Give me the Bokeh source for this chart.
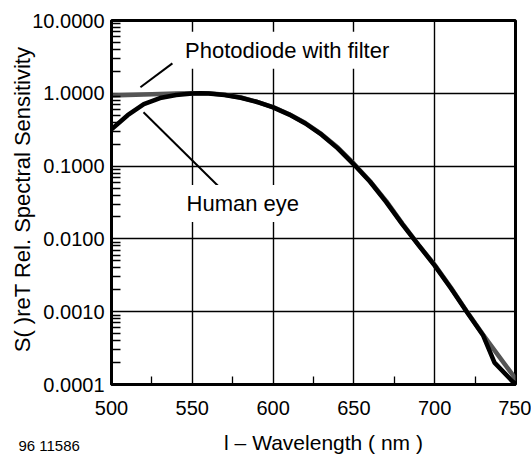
import math
from bokeh.plotting import figure
from bokeh.models import FixedTicker, PrintfTickFormatter, Label, Range1d
from bokeh.embed import file_html
from bokeh.resources import INLINE

# ---- data ----
wl_eye = [500, 510, 520, 530, 540, 550, 555, 560, 570, 580, 590, 600, 610, 620,
          630, 640, 650, 660, 670, 680, 690, 700, 710, 720, 730, 737, 750]
eye = [0.32, 0.50, 0.71, 0.86, 0.95, 0.995, 1.0, 0.995, 0.95, 0.87, 0.76, 0.64,
       0.51, 0.385, 0.27, 0.175, 0.105, 0.061, 0.032, 0.0158, 0.0082, 0.0043,
       0.0021, 0.00098, 0.00047, 0.0002, 0.0001]

wl_pd = [500, 510, 520, 530, 540, 550, 560, 570, 580, 590, 600, 610, 620, 630,
         640, 650, 660, 670, 680, 690, 700, 710, 720, 730, 740, 750]
photodiode = [0.93, 0.945, 0.96, 0.975, 0.99, 1.0, 1.0, 0.955, 0.875, 0.765,
              0.645, 0.515, 0.39, 0.275, 0.18, 0.108, 0.062, 0.033, 0.0162,
              0.0083, 0.0044, 0.00215, 0.001, 0.00048, 0.00024, 0.00012]

x_ticks = [500, 550, 600, 650, 700, 750]
x_minor = [525, 575, 625, 675, 725]
y_ticks = [0.0001, 0.001, 0.01, 0.1, 1.0, 10.0]
y_minor = [m * d for d in [0.0001, 0.001, 0.01, 0.1, 1.0] for m in range(2, 10)]

# leader lines (data coords)
pd_leader_x = [517.9, 537.7]
pd_leader_y = [1.21, 2.58]
eye_leader_x = [519.8, 566.8]
eye_leader_y = [0.548, 0.0511]

FONT = "Liberation Sans"

p = figure(frame_width=404, frame_height=364,
           min_border_left=111, min_border_right=16, min_border_top=20,
           min_border_bottom=70, y_axis_type="log",
           x_range=Range1d(500, 750), y_range=Range1d(0.0001, 10),
           output_backend="svg", toolbar_location=None,
           background_fill_color="white", border_fill_color="white")

p.outline_line_color = "black"
p.outline_line_width = 3
p.outline_line_alpha = 1

# axes
p.xaxis.ticker = FixedTicker(ticks=x_ticks, minor_ticks=x_minor)
p.yaxis.ticker = FixedTicker(ticks=y_ticks, minor_ticks=y_minor)
p.yaxis.formatter = PrintfTickFormatter(format="%.4f")
for ax in (p.xaxis[0], p.yaxis[0]):
    ax.axis_line_width = 3
    ax.axis_line_color = "black"
    ax.major_tick_in = 0
    ax.major_tick_out = 0
    ax.minor_tick_out = 0
    ax.minor_tick_line_color = "black"
    ax.minor_tick_line_width = 1.3
    ax.major_label_text_font = FONT
    ax.major_label_text_font_size = "20px"
    ax.major_label_text_color = "black"
p.xaxis.minor_tick_in = 8
p.yaxis.minor_tick_in = 9
p.xaxis.major_label_standoff = 16
p.yaxis.major_label_standoff = 7

# y axis title (lambda shows as blank, subscript as small run in the source)
p.yaxis.axis_label = "\u00a0\u00a0S( )reT Rel. Spectral  Sensitivity"
p.yaxis.axis_label_text_font = FONT
p.yaxis.axis_label_text_font_size = "22px"
p.yaxis.axis_label_text_font_style = "normal"
p.yaxis.axis_label_text_color = "black"
p.yaxis.axis_label_standoff = -6

# grid
p.xgrid.ticker = FixedTicker(ticks=[550, 600, 650, 700])
p.ygrid.ticker = FixedTicker(ticks=[0.001, 0.01, 0.1, 1.0])
for g in (p.xgrid[0], p.ygrid[0]):
    g.grid_line_color = "black"
    g.grid_line_width = 1.4
    g.grid_line_alpha = 1

# curves
p.line(wl_pd, photodiode, line_color="#555555", line_width=4.5, line_cap="round", line_join="round")
p.line(wl_eye, eye, line_color="black", line_width=4.5, line_cap="round", line_join="round")

# leaders
p.line(pd_leader_x, pd_leader_y, line_color="black", line_width=2)
p.line(eye_leader_x, eye_leader_y, line_color="black", line_width=2)

def lab(x, y, text, size="21px", align="left", bg=None, pad=0, place="center"):
    l = Label(x=x, y=y, text=text, text_font=FONT, text_font_size=size,
              text_color="black", text_align=align, text_baseline="alphabetic")
    if bg:
        l.background_fill_color = bg
        l.padding = pad
    p.add_layout(l, place)

lab(541.8, 3.91, "Photodiode with filter", size="22px", bg="white", pad=6)
lab(542.7, 0.0306, "Human eye", size="22px", bg="white", pad=6)

# x axis title and figure number live in side panels so they are not clipped
lab(631.2, 1.6e-5, "l \u2013 Wavelength ( nm )", align="center", place="below")
lab(442.4, 1.45e-5, "96 11586", size="15px", place="above")

open("out.html", "w").write(file_html(p, INLINE))
